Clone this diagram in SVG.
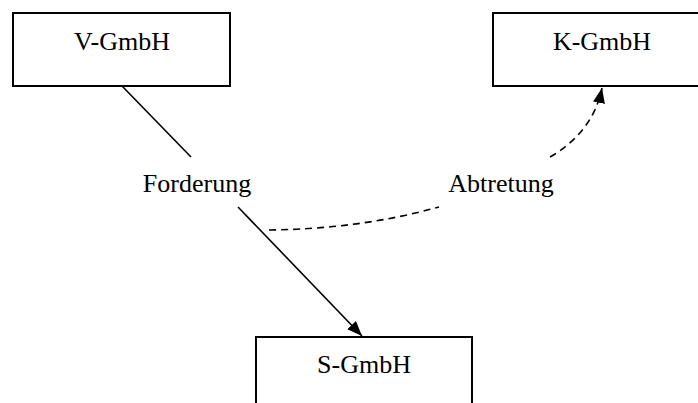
<svg xmlns="http://www.w3.org/2000/svg" width="698" height="403" viewBox="0 0 698 403">
<style>
.box{fill:#fff;stroke:#000;stroke-width:2}
.lbl{font-family:"Liberation Serif","Times New Roman",serif;font-size:26px;fill:#000;text-anchor:middle}
.edge{fill:none;stroke:#000;stroke-width:1.6}
.dash{stroke-dasharray:7,5}
</style>
<defs>
<marker id="arr" markerUnits="userSpaceOnUse" markerWidth="16" markerHeight="12" refX="15" refY="6" orient="auto">
<path d="M0,0 L15,6 L0,12 z" fill="#000"/>
</marker>
</defs>
<rect width="698" height="403" fill="#fff"/>
<g id="edges">
<line class="edge" x1="122" y1="86" x2="191" y2="157"/>
<text class="lbl" x="197" y="192">Forderung</text>
<line class="edge" x1="238" y1="207" x2="362" y2="336" marker-end="url(#arr)"/>
<path class="edge dash" d="M269,230 Q360,229 439,207"/>
<text class="lbl" x="501" y="192">Abtretung</text>
<path class="edge dash" d="M550,157 Q593,132 602,88" marker-end="url(#arr)"/>
</g>
<g id="V-GmbH">
<rect class="box" x="13" y="13" width="217" height="73"/>
<text class="lbl" x="122" y="50">V-GmbH</text>
</g>
<g id="K-GmbH">
<rect class="box" x="493" y="13" width="217" height="73"/>
<text class="lbl" x="602" y="50">K-GmbH</text>
</g>
<g id="S-GmbH">
<rect class="box" x="256" y="337" width="216" height="73"/>
<text class="lbl" x="364" y="373">S-GmbH</text>
</g>
</svg>
